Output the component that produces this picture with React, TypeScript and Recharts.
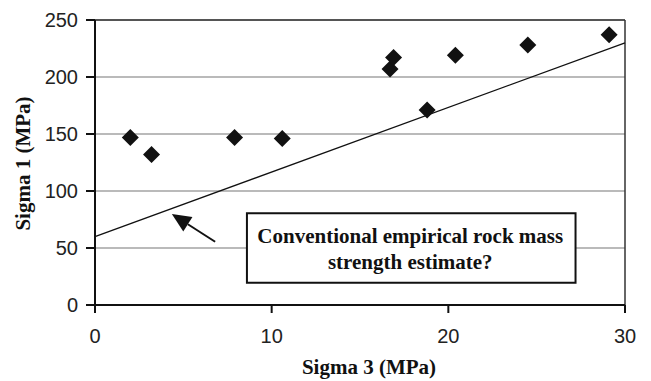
import {
  ScatterChart,
  Scatter,
  XAxis,
  YAxis,
  CartesianGrid,
  ReferenceLine,
  ReferenceArea,
} from 'recharts'

// measured strength data
const sigma3 = [2.0, 3.2, 7.9, 10.6, 16.7, 16.9, 18.8, 20.4, 24.5, 29.1]
const sigma1 = [147, 132, 147, 146, 207, 217, 171, 219, 228, 237]

// conventional estimate line
const fitX = [0, 30]
const fitY = [60, 230]

const xTicks = [0, 10, 20, 30]
const yTicks = [0, 50, 100, 150, 200, 250]

const noteLines = ['Conventional empirical rock mass', 'strength estimate?']
const noteBox = { x1: 8.6, x2: 27.2, y1: 19.6, y2: 80.4 }
const arrowFrom = { x: 6.8, y: 55.5 }
const arrowTo = { x: 4.35, y: 79.8 }

const points = sigma3.map((x, i) => ({ x, y: sigma1[i] }))

const serif = '"Liberation Serif", "Times New Roman", serif'
const sans = '"Liberation Sans", Arial, sans-serif'

const Diamond = (props: any) => {
  const { cx, cy } = props
  const r = 8.5
  return (
    <polygon
      points={`${cx},${cy - r} ${cx + r},${cy} ${cx},${cy + r} ${cx - r},${cy}`}
      fill='#111'
    />
  )
}

const Arrow = (props: any) => {
  const { x1, y1, x2, y2 } = props
  const dx = x2 - x1
  const dy = y2 - y1
  const len = Math.sqrt(dx * dx + dy * dy)
  const ux = dx / len
  const uy = dy / len
  const hl = 19
  const hw = 8.5
  const bx = x2 - ux * hl
  const by = y2 - uy * hl
  return (
    <g>
      <line x1={x1} y1={y1} x2={bx} y2={by} stroke='#111' strokeWidth={2} />
      <polygon
        points={`${x2},${y2} ${bx - uy * hw},${by + ux * hw} ${bx + uy * hw},${by - ux * hw}`}
        fill='#111'
      />
    </g>
  )
}

const NoteLabel = (props: any) => {
  const { viewBox } = props
  const cx = viewBox.x + viewBox.width / 2 - 1
  const cy = viewBox.y + viewBox.height / 2
  return (
    <text
      textAnchor='middle'
      fontFamily={serif}
      fontWeight='bold'
      fontSize={21}
      fill='#111'
    >
      <tspan x={cx} y={cy - 5}>{noteLines[0]}</tspan>
      <tspan x={cx} y={cy + 21}>{noteLines[1]}</tspan>
    </text>
  )
}

const XLabel = (props: any) => {
  const { viewBox } = props
  return (
    <text
      x={viewBox.x + viewBox.width / 2 + 9}
      y={374}
      textAnchor='middle'
      fontFamily={serif}
      fontWeight='bold'
      fontSize={21}
      fill='#111'
    >
      Sigma 3 (MPa)
    </text>
  )
}

const YLabel = (props: any) => {
  const { viewBox } = props
  const cy = viewBox.y + viewBox.height / 2 + 1
  return (
    <text
      x={30}
      y={cy}
      transform={`rotate(-90, 30, ${cy})`}
      textAnchor='middle'
      fontFamily={serif}
      fontWeight='bold'
      fontSize={21}
      fill='#111'
    >
      Sigma 1 (MPa)
    </text>
  )
}

export default function App() {
  return (
    <div style={{ position: 'absolute', left: 0, top: 0, background: '#fff' }}>
      <ScatterChart
        width={651}
        height={381}
        margin={{ top: 20, right: 26, bottom: 0, left: 0 }}
      >
        <CartesianGrid vertical={false} stroke='#777' strokeWidth={1.2} />
        <XAxis
          type='number'
          dataKey='x'
          domain={[0, 30]}
          ticks={xTicks}
          height={76}
          stroke='#111'
          strokeWidth={2}
          tickSize={8}
          tickMargin={16}
          tick={{ fontSize: 20, fontFamily: sans, fill: '#222' }}
          label={<XLabel />}
        />
        <YAxis
          type='number'
          dataKey='y'
          domain={[0, 250]}
          ticks={yTicks}
          width={95}
          stroke='#111'
          strokeWidth={2}
          tickSize={9}
          tickMargin={8}
          tick={{ fontSize: 20, fontFamily: sans, fill: '#222' }}
          label={<YLabel />}
        />
        <ReferenceLine y={250} stroke='#333' strokeWidth={1.5} />
        <ReferenceLine x={30} stroke='#333' strokeWidth={1.5} />
        <ReferenceLine
          segment={[
            { x: fitX[0], y: fitY[0] },
            { x: fitX[1], y: fitY[1] },
          ]}
          stroke='#111'
          strokeWidth={1.3}
        />
        <ReferenceArea
          x1={noteBox.x1}
          x2={noteBox.x2}
          y1={noteBox.y1}
          y2={noteBox.y2}
          fill='#fff'
          fillOpacity={1}
          stroke='#111'
          strokeWidth={2}
          label={<NoteLabel />}
        />
        <ReferenceLine
          segment={[arrowFrom, arrowTo]}
          shape={<Arrow />}
        />
        <Scatter
          data={points}
          shape={<Diamond />}
          isAnimationActive={false}
        />
      </ScatterChart>
    </div>
  )
}
